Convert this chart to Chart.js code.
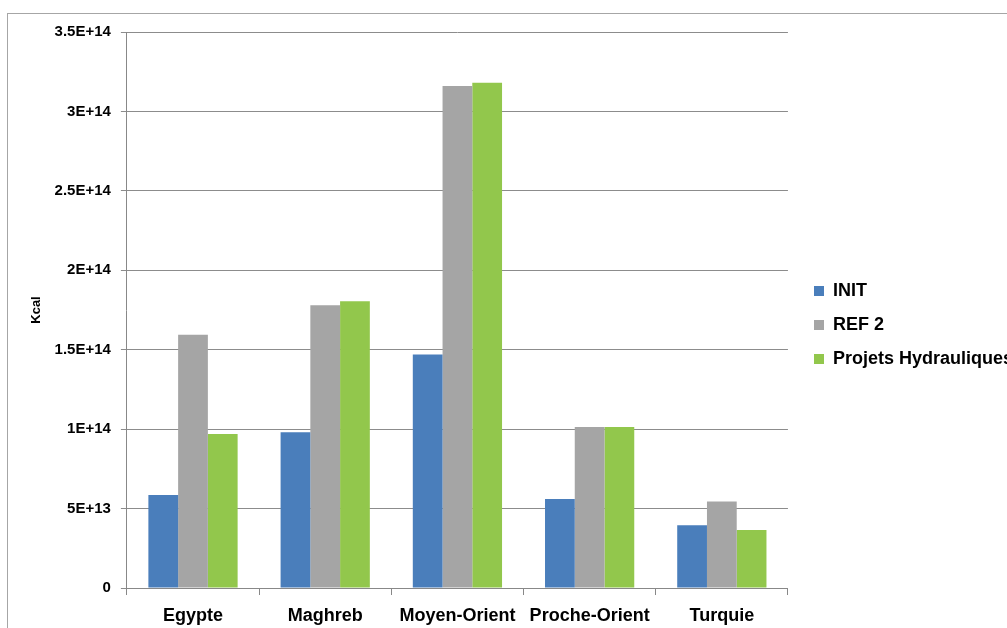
<!DOCTYPE html>
<html>
<head>
<meta charset="utf-8">
<script src="https://cdn.jsdelivr.net/npm/chart.js@4"></script>
<style>
  html, body { margin: 0; padding: 0; background: #fff; overflow: hidden; }
  #frame { position: absolute; left: 7px; top: 13px; width: 1100px; height: 700px; border: 1px solid #a6a6a6; }
  #wrap { position: absolute; left: 0; top: 0; width: 1023px; height: 640px; }
</style>
</head>
<body>
<div id="frame"></div>
<div id="wrap"><canvas id="c"></canvas></div>
<script>
const categories = ['Egypte', 'Maghreb', 'Moyen-Orient', 'Proche-Orient', 'Turquie'];
const initValues = [5.85e13, 9.8e13, 1.47e14, 5.6e13, 3.95e13];
const ref2Values = [1.595e14, 1.78e14, 3.16e14, 1.013e14, 5.45e13];
const hydroValues = [9.7e13, 1.805e14, 3.18e14, 1.013e14, 3.65e13];
const yTicks = [0, 5e13, 1e14, 1.5e14, 2e14, 2.5e14, 3e14, 3.5e14];
const colors = ['#4A7EBB', '#A5A5A5', '#92C74C'];

function sci(v) {
  if (v === 0) return '0';
  const e = Math.floor(Math.log10(v) + 1e-9);
  const m = Math.round(v / Math.pow(10, e) * 10) / 10;
  return m + 'E+' + e;
}

// legend swatch: 10x10 square sitting at the right of a 20px wide box
function swatch(color) {
  const cv = document.createElement('canvas');
  cv.width = 20; cv.height = 10;
  const g = cv.getContext('2d');
  g.fillStyle = color;
  g.fillRect(10, 0, 10, 10);
  return cv;
}

const font = "'Liberation Sans', Arial, sans-serif";

new Chart(document.getElementById('c'), {
  type: 'bar',
  data: {
    labels: categories,
    datasets: [
      { label: 'INIT', data: initValues, backgroundColor: colors[0] },
      { label: 'REF 2', data: ref2Values, backgroundColor: colors[1] },
      { label: 'Projets Hydrauliques', data: hydroValues, backgroundColor: colors[2] }
    ]
  },
  options: {
    responsive: true,
    maintainAspectRatio: false,
    animation: false,
    layout: { padding: { top: 13, left: 18, right: 0, bottom: 3 } },
    datasets: { bar: { categoryPercentage: 0.675, barPercentage: 1 } },
    plugins: {
      legend: {
        position: 'right',
        align: 'center',
        labels: {
          usePointStyle: true,
          pointStyleWidth: 20,
          boxWidth: 10, boxHeight: 10, padding: 16,
          color: '#000',
          font: { family: font, size: 18, weight: 'bold' },
          generateLabels: (chart) => Chart.defaults.plugins.legend.labels.generateLabels(chart)
            .map((item, i) => ({ ...item, pointStyle: swatch(colors[i]) }))
        }
      },
      tooltip: { enabled: false }
    },
    scales: {
      x: {
        grid: { drawOnChartArea: false, drawTicks: true, tickLength: 7, color: '#888' },
        border: { color: '#888' },
        ticks: {
          color: '#000', padding: 20, maxRotation: 0, minRotation: 0, autoSkip: false,
          font: { family: font, size: 18, weight: 'bold', lineHeight: 0.11 }
        }
      },
      // empty spacer above the plot so the legend sits where it does in the original
      xTop: {
        type: 'category', position: 'top', display: true,
        grid: { display: false, drawTicks: false },
        border: { display: false },
        ticks: { display: false },
        afterFit: (s) => { s.height = 19; }
      },
      y: {
        min: 0, max: 3.5e14,
        afterBuildTicks: (axis) => { axis.ticks = yTicks.map(v => ({ value: v })); },
        grid: { color: '#8c8c8c', tickLength: 6 },
        border: { color: '#888' },
        title: { display: true, text: 'Kcal', color: '#000', font: { family: font, size: 13, weight: 'bold' }, padding: { top: 11, bottom: 0 } },
        ticks: { color: '#000', padding: 10, callback: (v) => sci(v), font: { family: font, size: 15, weight: 'bold' } }
      }
    }
  }
});
</script>
</body>
</html>
